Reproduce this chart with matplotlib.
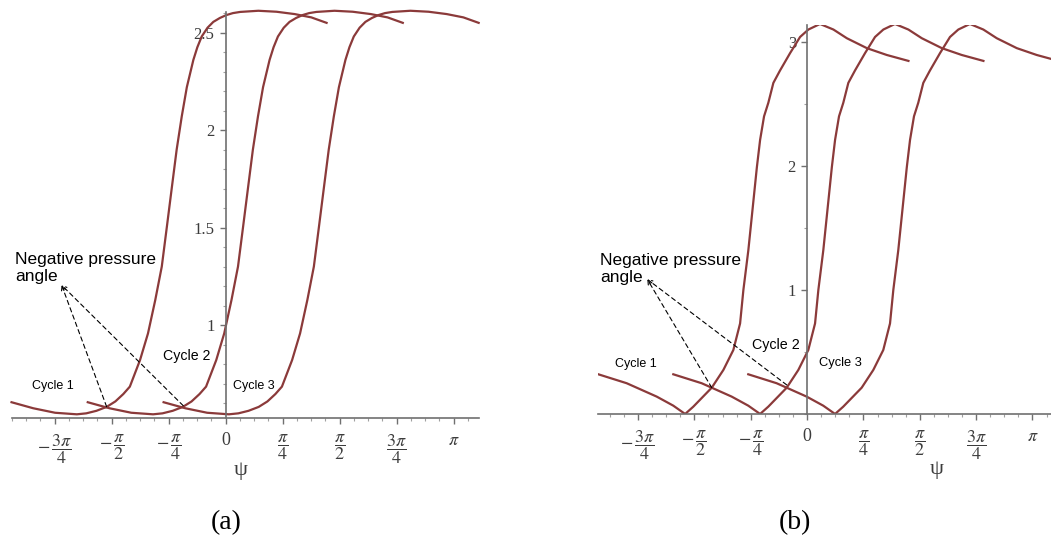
import numpy as np
import matplotlib.pyplot as plt
from matplotlib.ticker import MultipleLocator

plt.rcParams['mathtext.fontset'] = 'stix'

# ---- data (psi in rad) -----------------------------------------------------
# (a) one shared profile, three cycles shifted along psi
ya = [0.604, 0.573, 0.55, 0.542, 0.547, 0.56, 0.58, 0.608, 0.646, 0.684, 0.82,
      0.957, 1.128, 1.30, 1.504, 1.71, 1.90, 2.07, 2.22, 2.36, 2.425, 2.48,
      2.525, 2.555, 2.575, 2.59, 2.60, 2.606, 2.612, 2.607, 2.595, 2.578, 2.55]
xa1 = [-2.95, -2.65, -2.35, -2.05, -1.92, -1.78, -1.64, -1.52, -1.41, -1.32,
       -1.18, -1.07, -0.97, -0.88, -0.81, -0.74, -0.675, -0.605, -0.535,
       -0.445, -0.39, -0.33, -0.25, -0.17, -0.08, 0.01, 0.10, 0.20, 0.45, 0.70,
       0.95, 1.18, 1.39]
xa2 = [-1.90, -1.60, -1.30, -1.00, -0.87, -0.73, -0.59, -0.47, -0.36, -0.27,
       -0.13, -0.02, 0.08, 0.17, 0.24, 0.31, 0.375, 0.445, 0.515, 0.605, 0.66,
       0.72, 0.80, 0.88, 0.97, 1.06, 1.15, 1.25, 1.50, 1.75, 2.00, 2.23, 2.44]
xa3 = [-0.855, -0.555, -0.255, 0.045, 0.175, 0.315, 0.455, 0.575, 0.685,
       0.775, 0.915, 1.025, 1.125, 1.215, 1.285, 1.355, 1.42, 1.49, 1.56, 1.65,
       1.705, 1.765, 1.845, 1.925, 2.015, 2.105, 2.195, 2.295, 2.545, 2.795,
       3.045, 3.275, 3.485]

# (b)
yb = [0.32, 0.248, 0.14, 0.067, 0.0, 0.059, 0.212, 0.355, 0.516, 0.73, 1.0,
      1.32, 1.59, 1.99, 2.21, 2.40, 2.51, 2.67, 2.77, 2.91, 3.04, 3.10, 3.145,
      3.10, 3.03, 2.95, 2.895, 2.847]
xb1 = [-2.91, -2.515, -2.096, -1.865, -1.70, -1.586, -1.329, -1.167, -1.028,
       -0.934, -0.888, -0.819, -0.771, -0.70, -0.655, -0.60, -0.54, -0.47,
       -0.377, -0.237, -0.098, 0.018, 0.18, 0.367, 0.554, 0.833, 1.11, 1.413]
xb2 = [-1.865, -1.47, -1.051, -0.82, -0.655, -0.541, -0.284, -0.122, 0.017,
       0.111, 0.157, 0.226, 0.274, 0.345, 0.39, 0.445, 0.505, 0.575, 0.668,
       0.808, 0.947, 1.063, 1.225, 1.412, 1.599, 1.878, 2.155, 2.458]
xb3 = [-0.82, -0.425, -0.006, 0.225, 0.39, 0.504, 0.761, 0.923, 1.062, 1.156,
       1.202, 1.271, 1.319, 1.39, 1.435, 1.49, 1.55, 1.62, 1.713, 1.853, 1.992,
       2.108, 2.27, 2.457, 2.644, 2.923, 3.2, 3.503]

xticks = [-3*np.pi/4, -np.pi/2, -np.pi/4, 0, np.pi/4, np.pi/2, 3*np.pi/4, np.pi]
xlabels = [r'$-\,\dfrac{3\pi}{4}$', r'$-\,\dfrac{\pi}{2}$', r'$-\,\dfrac{\pi}{4}$',
           '0', r'$\dfrac{\pi}{4}$', r'$\dfrac{\pi}{2}$', r'$\dfrac{3\pi}{4}$',
           r'$\pi$']
yticks_a = [1, 1.5, 2, 2.5]
yticks_b = [1, 2, 3]

CURVE = '#8b3a3a'
AXC = '#707070'
LAB = '#3c3c3c'


def setup(ax, xlim, ylim, yticks, yminor):
    ax.set_xlim(xlim)
    ax.set_ylim(ylim)
    for s in ['top', 'right']:
        ax.spines[s].set_visible(False)
    ax.spines['left'].set_position(('data', 0))
    for s in ['left', 'bottom']:
        ax.spines[s].set_color(AXC)
        ax.spines[s].set_linewidth(1.2)
    ax.set_xticks(xticks, xlabels)
    ax.set_yticks(yticks, [('%g' % v) for v in yticks])
    ax.xaxis.set_minor_locator(MultipleLocator(np.pi/16))
    ax.yaxis.set_minor_locator(MultipleLocator(yminor))
    ax.tick_params(which='major', length=4, width=1, color=AXC, labelcolor=LAB)
    ax.tick_params(which='minor', length=2.5, width=0.8, color='#a0a0a0')
    ax.tick_params(axis='x', pad=6, labelsize=13)
    ax.tick_params(axis='y', pad=4, labelsize=12)
    for lab in ax.get_xticklabels() + ax.get_yticklabels():
        lab.set_family('Liberation Serif')
    ax.patch.set_alpha(0)


fig = plt.figure(figsize=(10.51, 5.46), dpi=100)

# ---------------- (a) ----------------
ax1 = fig.add_axes([0.0111, 0.2344, 0.4446, 0.7441])
setup(ax1, (-2.948, 3.489), (0.523, 2.607), yticks_a, 0.1)
for xs in (xa1, xa2, xa3):
    ax1.plot(xs, ya, color=CURVE, lw=1.6, clip_on=False)

ax1.text(-2.90, 1.374, 'Negative pressure\nangle', family='Liberation Sans',
         size=12.5, va='top', ha='left', linespacing=1.15)
for ex, ey in [(-1.64, 0.581), (-0.584, 0.586)]:
    ax1.annotate('', xy=(-2.26, 1.205), xytext=(ex, ey),
                 arrowprops=dict(arrowstyle='->,head_length=0.3,head_width=0.15',
                                 ls=(0, (4, 3)), lw=0.8, color='k',
                                 shrinkA=0, shrinkB=0))
ax1.text(-2.67, 0.687, 'Cycle 1', family='Liberation Sans', size=9, va='center')
ax1.text(-0.864, 0.84, 'Cycle 2', family='Liberation Sans', size=10.2, va='center')
ax1.text(0.096, 0.687, 'Cycle 3', family='Liberation Sans', size=9, va='center')
ax1.text(0.2, 0.256, 'ψ', family='Liberation Serif', size=16, ha='center',
         va='center', color=LAB)

# ---------------- (b) ----------------
ax2 = fig.add_axes([0.5693, 0.2418, 0.4307, 0.7125])
setup(ax2, (-2.91, 3.40), (0, 3.137), yticks_b, 0.5)
for xs in (xb1, xb2, xb3):
    ax2.plot(xs, yb, color=CURVE, lw=1.6, clip_on=True)

ax2.text(-2.887, 1.30, 'Negative pressure\nangle', family='Liberation Sans',
         size=12.5, va='top', ha='left', linespacing=1.15)
for ex, ey in [(-1.329, 0.212), (-0.283, 0.234)]:
    ax2.annotate('', xy=(-2.227, 1.086), xytext=(ex, ey),
                 arrowprops=dict(arrowstyle='->,head_length=0.3,head_width=0.15',
                                 ls=(0, (4, 3)), lw=0.8, color='k',
                                 shrinkA=0, shrinkB=0))
ax2.text(-2.68, 0.40, 'Cycle 1', family='Liberation Sans', size=9, va='center')
ax2.text(-0.77, 0.56, 'Cycle 2', family='Liberation Sans', size=10.3, va='center')
ax2.text(0.16, 0.41, 'Cycle 3', family='Liberation Sans', size=9.3, va='center')
ax2.text(1.81, -0.45, 'ψ', family='Liberation Serif', size=16, ha='center',
         va='center', color=LAB)

fig.text(226/1051, 1 - 523/546, '(a)', family='Liberation Serif', size=20,
         ha='center', va='center')
fig.text(795/1051, 1 - 523/546, '(b)', family='Liberation Serif', size=20,
         ha='center', va='center')

fig.savefig('out.png', dpi=100)
